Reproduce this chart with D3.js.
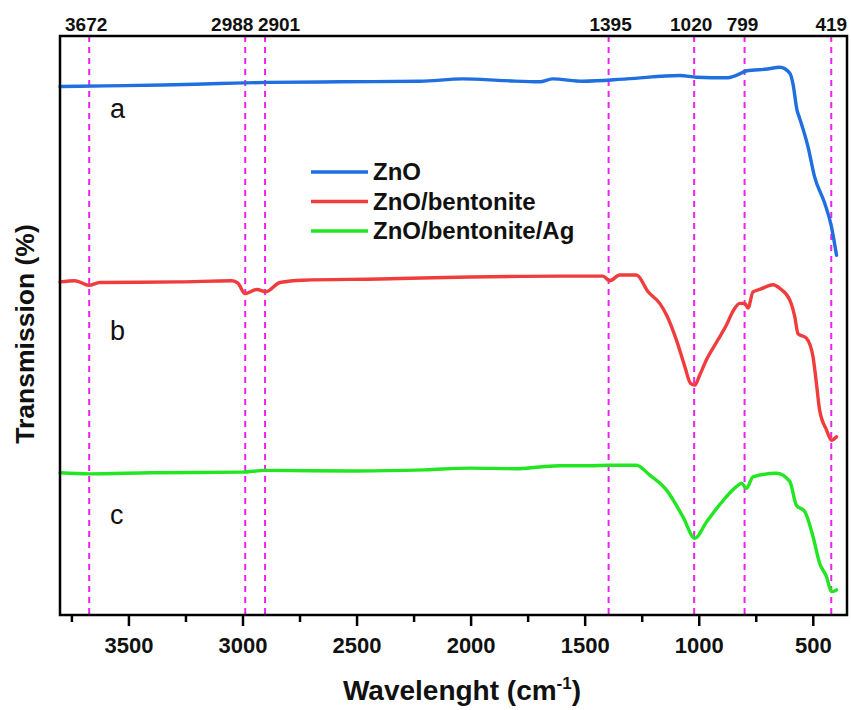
<!DOCTYPE html>
<html>
<head>
<meta charset="utf-8">
<script src="https://cdn.jsdelivr.net/npm/d3@7"></script>
<style>
  html, body { margin: 0; padding: 0; background: #fff; }
  svg { display: block; font-family: Arial, "Liberation Sans", sans-serif; }
</style>
</head>
<body>
<svg id="chart" width="851" height="710"></svg>
<script>
// ---- data (wavenumber cm-1, transmission a.u.) ----
const seriesNames = ["ZnO", "ZnO/bentonite", "ZnO/bentonite/Ag"];
const seriesColors = ["#1f6fe0", "#f03c3c", "#22e622"];
const curveLabels = ["a", "b", "c"];

const znoData = [
  [3800, 91.3], [3600, 91.4], [3349, 91.55], [3100, 91.8], [2893, 92.0], [2573, 92.1],
  [2222, 92.2], [2034, 92.6], [1850, 92.3], [1697, 92.1], [1640, 92.6], [1508, 92.2],
  [1315, 92.6], [1083, 93.2], [1009, 92.9], [877, 92.8], [830, 93.3], [789, 94.0],
  [700, 94.3], [645, 94.6], [601, 93.6], [587, 91.8], [569, 87.2], [560, 86.1],
  [521, 80.9], [492, 75.7], [448, 71.2], [418, 67.1], [396, 62.2]
];

const bentData = [
  [3800, 57.6], [3734, 57.8], [3673, 57.0], [3625, 57.5], [3274, 57.6], [3046, 57.8],
  [3020, 57.4], [2989, 55.6], [2937, 56.3], [2897, 55.9], [2836, 57.5], [2735, 57.9],
  [2398, 58.1], [2003, 58.45], [1609, 58.6], [1420, 58.6], [1390, 57.8], [1346, 58.8],
  [1273, 58.8], [1222, 55.9], [1171, 53.9], [1141, 51.9], [1098, 47.6], [1061, 43.0],
  [1036, 40.1], [1017, 39.8], [996, 41.5], [966, 44.2], [922, 47.2], [878, 50.2],
  [849, 52.6], [820, 53.9], [798, 53.9], [784, 53.1], [762, 55.9], [733, 56.3],
  [674, 57.1], [645, 56.5], [601, 54.5], [579, 51.6], [565, 48.7], [528, 47.9],
  [499, 44.7], [484, 40.1], [470, 35.5], [440, 32.1], [418, 30.3], [396, 30.9]
];

const bentAgData = [
  [3800, 24.7], [3672, 24.5], [3400, 24.7], [3000, 24.8], [2900, 25.1], [2500, 25.0],
  [2200, 25.2], [2003, 25.5], [1800, 25.4], [1697, 25.7], [1609, 25.9], [1478, 25.9],
  [1390, 26.0], [1273, 26.0], [1215, 24.3], [1141, 21.7], [1069, 17.1], [1017, 13.4],
  [966, 16.2], [908, 19.2], [835, 22.3], [813, 22.9], [791, 22.0], [762, 24.0],
  [659, 24.6], [601, 23.2], [572, 19.1], [535, 18.0], [499, 13.7], [470, 9.1],
  [440, 6.8], [418, 4.2], [396, 4.5]
];

const peakPositions = [3672, 2988, 2901, 1395, 1020, 799, 419];
const majorTicks = [3500, 3000, 2500, 2000, 1500, 1000, 500];
const minorTicks = [3750, 3250, 2750, 2250, 1750, 1250, 750];

// ---- layout ----
const svg = d3.select("#chart");
const L = 60, R = 847, T = 36, B = 615;
const peakLabelShift = [-3, -13, 14, 2, -3, -2, 0];   // px nudges so labels don't collide

const x = d3.scaleLinear().domain([3800, 350]).range([L, R]);
const y = d3.scaleLinear().domain([0, 100]).range([616, 36]);

// peak dashed lines
svg.append("g").selectAll("line").data(peakPositions).join("line")
  .attr("x1", d => x(d)).attr("x2", d => x(d))
  .attr("y1", T).attr("y2", B)
  .attr("stroke", "#f020f0").attr("stroke-width", 2)
  .attr("stroke-dasharray", "6,5");

// peak labels above frame
svg.append("g").selectAll("text").data(peakPositions).join("text")
  .attr("x", (d, i) => x(d) + peakLabelShift[i]).attr("y", 31)
  .attr("text-anchor", "middle")
  .attr("font-size", 19).attr("font-weight", "bold").attr("fill", "#111")
  .text(d => d);

// curves
const line = d3.line().x(d => x(d[0])).y(d => y(d[1])).curve(d3.curveMonotoneX);
const allData = [znoData, bentData, bentAgData];
svg.append("g").selectAll("path").data(allData).join("path")
  .attr("d", line)
  .attr("fill", "none")
  .attr("stroke", (d, i) => seriesColors[i])
  .attr("stroke-width", 3.4)
  .attr("stroke-linejoin", "round").attr("stroke-linecap", "round");

// a/b/c labels
svg.append("g").selectAll("text").data(curveLabels).join("text")
  .attr("x", 110).attr("y", (d, i) => [118, 340, 524][i])
  .attr("font-size", 27).attr("fill", "#111")
  .text(d => d);

// frame
svg.append("rect").attr("x", L).attr("y", T).attr("width", R - L).attr("height", B - T)
  .attr("fill", "none").attr("stroke", "#000").attr("stroke-width", 2.5);

// bottom axis: major
const axMajor = d3.axisBottom(x).tickValues(majorTicks).tickSize(11).tickPadding(11)
  .tickFormat(d3.format("d"));
const gMaj = svg.append("g").attr("transform", `translate(0,${B})`).call(axMajor);
gMaj.select(".domain").remove();
gMaj.selectAll(".tick line").attr("stroke", "#000").attr("stroke-width", 2.5);
gMaj.selectAll(".tick text").attr("font-size", 22).attr("font-weight", "bold")
  .attr("fill", "#111").attr("font-family", "Arial, 'Liberation Sans', sans-serif");

// bottom axis: minor
const axMinor = d3.axisBottom(x).tickValues(minorTicks).tickSize(7).tickFormat("");
const gMin = svg.append("g").attr("transform", `translate(0,${B})`).call(axMinor);
gMin.select(".domain").remove();
gMin.selectAll(".tick line").attr("stroke", "#000").attr("stroke-width", 2.5);

// axis titles
const xt = svg.append("text").attr("x", 462).attr("y", 700)
  .attr("text-anchor", "middle").attr("font-size", 28).attr("font-weight", "bold").attr("fill", "#111");
xt.append("tspan").text("Wavelenght (cm");
xt.append("tspan").attr("font-size", 17).attr("dy", -11).text("-1");
xt.append("tspan").attr("dy", 11).text(")");

svg.append("text")
  .attr("transform", "translate(34,334) rotate(-90)")
  .attr("text-anchor", "middle").attr("font-size", 26.5).attr("font-weight", "bold").attr("fill", "#111")
  .text("Transmission (%)");

// legend
const lg = svg.append("g");
seriesNames.forEach((name, i) => {
  const yy = 172 + i * 29.5;
  lg.append("line").attr("x1", 311).attr("x2", 368).attr("y1", yy).attr("y2", yy)
    .attr("stroke", seriesColors[i]).attr("stroke-width", 3.5);
  lg.append("text").attr("x", 373).attr("y", yy + 8)
    .attr("font-size", 24).attr("font-weight", "bold").attr("fill", "#111")
    .text(name);
});
</script>
</body>
</html>
